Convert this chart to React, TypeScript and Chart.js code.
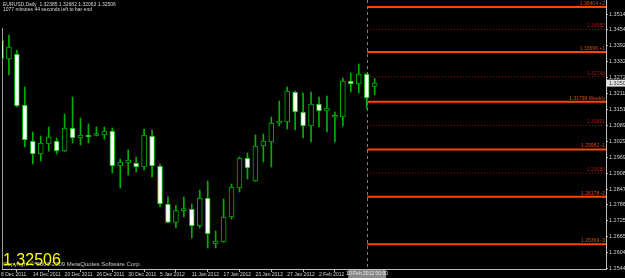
import { useEffect, useRef } from "react";
import { Chart, registerables } from "chart.js";

Chart.register(...registerables);

// ---- data ----
const dates = [
  "8 Dec 2011", "9 Dec 2011", "12 Dec 2011", "13 Dec 2011", "14 Dec 2011", "15 Dec 2011", "16 Dec 2011",
  "19 Dec 2011", "20 Dec 2011", "21 Dec 2011", "22 Dec 2011", "23 Dec 2011", "26 Dec 2011", "27 Dec 2011",
  "28 Dec 2011", "29 Dec 2011", "30 Dec 2011", "2 Jan 2012", "3 Jan 2012", "4 Jan 2012", "5 Jan 2012",
  "6 Jan 2012", "9 Jan 2012", "10 Jan 2012", "11 Jan 2012", "12 Jan 2012", "13 Jan 2012", "16 Jan 2012",
  "17 Jan 2012", "18 Jan 2012", "19 Jan 2012", "20 Jan 2012", "23 Jan 2012", "24 Jan 2012", "25 Jan 2012",
  "26 Jan 2012", "27 Jan 2012", "30 Jan 2012", "31 Jan 2012", "1 Feb 2012", "2 Feb 2012", "3 Feb 2012",
  "6 Feb 2012", "7 Feb 2012", "8 Feb 2012", "9 Feb 2012", "10 Feb 2012", "13 Feb 2012",
];
const opens = [
  1.34149, 1.33426, 1.33616, 1.31673, 1.30301, 1.29806, 1.30187, 1.30301, 1.2992, 1.30797, 1.30416, 1.3053,
  1.3051, 1.3053, 1.30682, 1.29349, 1.29463, 1.29463, 1.29311, 1.30492, 1.29349, 1.279, 1.272, 1.2765,
  1.27711, 1.27063, 1.2813, 1.26377, 1.26453, 1.27406, 1.28511, 1.29654, 1.28777, 1.30111, 1.30263, 1.30985,
  1.31025, 1.32168, 1.31406, 1.30873, 1.31711, 1.31444, 1.31205, 1.31216, 1.32587, 1.32473, 1.32854, 1.32385,
];
const highs = [
  1.34569, 1.3434, 1.33768, 1.32359, 1.30644, 1.30492, 1.30835, 1.30416, 1.3133, 1.31978, 1.31178, 1.30949,
  1.30835, 1.30835, 1.30797, 1.29616, 1.29958, 1.29692, 1.30759, 1.3072, 1.29425, 1.2817, 1.2785, 1.28168,
  1.27901, 1.28434, 1.28777, 1.26872, 1.28092, 1.28663, 1.29692, 1.29844, 1.3053, 1.30568, 1.31216, 1.31825,
  1.32359, 1.32206, 1.3213, 1.32168, 1.31978, 1.32016, 1.31406, 1.32702, 1.32892, 1.33235, 1.32892, 1.32682,
];
const lows = [
  1.32892, 1.32816, 1.31597, 1.30073, 1.29425, 1.29539, 1.2992, 1.29806, 1.29901, 1.30225, 1.30149, 1.30225,
  1.30492, 1.30378, 1.29082, 1.28511, 1.29006, 1.2912, 1.29196, 1.2893, 1.278, 1.2718, 1.27, 1.27406,
  1.26606, 1.26987, 1.26225, 1.26225, 1.2644, 1.2733, 1.28358, 1.28854, 1.2877, 1.29501, 1.29311, 1.30873,
  1.30759, 1.3072, 1.30416, 1.30263, 1.30835, 1.30644, 1.30263, 1.30873, 1.32168, 1.3213, 1.31521, 1.32063,
];
const closes = [
  1.33426, 1.33883, 1.31635, 1.30339, 1.29806, 1.30225, 1.30454, 1.2992, 1.30797, 1.30416, 1.3053, 1.30454,
  1.30545, 1.30682, 1.29349, 1.29501, 1.29577, 1.29311, 1.3053, 1.29349, 1.279, 1.272, 1.2765, 1.2769,
  1.27063, 1.2813, 1.26758, 1.26491, 1.27406, 1.28549, 1.29654, 1.29273, 1.30111, 1.30301, 1.30987, 1.3102,
  1.32206, 1.31406, 1.30873, 1.31711, 1.31444, 1.31559, 1.3124, 1.32587, 1.32473, 1.32854, 1.3194, 1.32506,
];
const priceTicks = [
  1.3514, 1.3454, 1.33925, 1.33325, 1.3272, 1.3211, 1.3151, 1.30895, 1.3029, 1.2969, 1.2908, 1.2847,
  1.27865, 1.27255, 1.2665, 1.26045, 1.2544,
];
const dateTickIndex = [0, 4, 8, 12, 16, 20, 24, 28, 32, 36, 40, 44];
const pivotLevels = [1.35404, 1.33696, 1.31799, 1.29982, 1.28178, 1.26369];
const pivotTags = ["+2", "+1", "Weekly", "-1", "-2", "-3"];
const midLevels = [1.3455, 1.32748, 1.30891, 1.2908];
const lineStartIndex = 46.05;
const lineLabel = "10 Feb 2012 00:00";
const headerLine1 = "EURUSD,Daily  1.32385 1.32682 1.32063 1.32506";
const headerLine2 = "1077 minutes 44 seconds left to bar end";
const copyright = "Copyright \u00A9 2001-2009 MetaQuotes Software Corp.";

const X_MIN = 0.126;
const X_MAX = 76.1;
const Y_MIN = 1.254245;
const Y_MAX = 1.356734;
const FONT = "'Liberation Sans', Arial, sans-serif";

export default function App() {
  const ref = useRef<HTMLCanvasElement>(null);

  useEffect(() => {
    document.body.style.margin = "0";
    document.body.style.background = "#000";
    const canvas = ref.current;
    if (!canvas) return;

    const idx = dates.map((_, i) => i);
    const bull = idx.map((i) => closes[i] >= opens[i]);
    const bodies = idx.map((i) => ({ x: i, y: [Math.min(opens[i], closes[i]), Math.max(opens[i], closes[i])] }));
    const wicks = idx.map((i) => ({ x: i, y: [lows[i], highs[i]] }));

    const datasets: any[] = [
      {
        type: "bar",
        data: bodies,
        backgroundColor: idx.map((i) => (bull[i] ? "#000000" : "#ffffff")),
        borderColor: "#00b000",
        borderWidth: 1,
        borderSkipped: false,
        barThickness: 5,
        grouped: false,
        minBarLength: 2,
        order: 0,
      },
      {
        type: "bar",
        data: wicks,
        backgroundColor: "#00b000",
        borderWidth: 0,
        barThickness: 1,
        grouped: false,
        order: 1,
      },
    ];
    pivotLevels.forEach((p) => {
      datasets.push({
        type: "line",
        data: [
          { x: lineStartIndex, y: p },
          { x: X_MAX, y: p },
        ],
        borderColor: "#ff4500",
        borderWidth: 2,
        pointRadius: 0,
        order: 3,
      });
    });
    midLevels.forEach((p) => {
      datasets.push({
        type: "line",
        data: [
          { x: lineStartIndex, y: p },
          { x: X_MAX, y: p },
        ],
        borderColor: "#a01010",
        borderWidth: 1,
        borderDash: [1, 2],
        pointRadius: 0,
        order: 3,
      });
    });

    const decor = {
      id: "decor",
      beforeDraw(chart: any) {
        const ctx = chart.ctx;
        ctx.save();
        ctx.fillStyle = "#000";
        ctx.fillRect(0, 0, chart.width, chart.height);
        ctx.restore();
      },
      beforeDatasetsDraw(chart: any) {
        const ctx = chart.ctx;
        const { chartArea } = chart;
        const xs = chart.scales.x;
        ctx.save();
        // left frame line
        ctx.strokeStyle = "#a0a0a0";
        ctx.lineWidth = 1;
        ctx.beginPath();
        ctx.moveTo(chartArea.left + 0.5, 28);
        ctx.lineTo(chartArea.left + 0.5, chartArea.bottom);
        ctx.stroke();
        // vertical dashed line
        const vx = Math.round(xs.getPixelForValue(lineStartIndex)) + 0.5;
        ctx.strokeStyle = "#808080";
        ctx.setLineDash([3, 3]);
        ctx.beginPath();
        ctx.moveTo(vx, chartArea.top);
        ctx.lineTo(vx, chartArea.bottom);
        ctx.stroke();
        ctx.restore();
      },
      afterDraw(chart: any) {
        const ctx = chart.ctx;
        const { chartArea } = chart;
        const xs = chart.scales.x;
        const ys = chart.scales.y;
        ctx.save();
        // pivot labels
        ctx.textAlign = "right";
        ctx.textBaseline = "bottom";
        ctx.font = `5px ${FONT}`;
        pivotLevels.forEach((p, k) => {
          const y = ys.getPixelForValue(p);
          ctx.fillStyle = "#d05010";
          ctx.fillText(`${p.toFixed(5)} ${pivotTags[k]}`, chartArea.right - 1, y - 1);
        });
        midLevels.forEach((p) => {
          const y = ys.getPixelForValue(p);
          ctx.fillStyle = "#a01818";
          ctx.fillText(p.toFixed(5), chartArea.right - 1, y - 1);
        });
        // header
        ctx.textAlign = "left";
        ctx.textBaseline = "middle";
        ctx.fillStyle = "#d8d8d8";
        ctx.font = `5px ${FONT}`;
        ctx.fillText(headerLine1, 3, 5);
        ctx.fillText(headerLine2, 3, 10);
        // copyright
        ctx.fillStyle = "#c8c8c8";
        ctx.font = `6px ${FONT}`;
        ctx.fillText(copyright, 3, 264);
        // big price
        ctx.fillStyle = "#ffff00";
        ctx.font = `16px ${FONT}`;
        ctx.textBaseline = "alphabetic";
        ctx.fillText(closes[closes.length - 1].toFixed(5), 3, 265);
        // current price box on right axis
        const py = ys.getPixelForValue(closes[closes.length - 1]);
        ctx.fillStyle = "#e0e0e0";
        ctx.fillRect(chartArea.right, py - 3.5, chart.width - chartArea.right, 7);
        ctx.fillStyle = "#404040";
        ctx.font = `5.5px ${FONT}`;
        ctx.textBaseline = "middle";
        ctx.fillText(closes[closes.length - 1].toFixed(5), chartArea.right + 3, py);
        // time label box
        const bx = xs.getPixelForValue(lineStartIndex);
        ctx.fillStyle = "#888888";
        ctx.fillRect(bx - 19, chartArea.bottom + 1, 38, 8);
        ctx.fillStyle = "#e8e8e8";
        ctx.font = `5px ${FONT}`;
        ctx.textAlign = "center";
        ctx.fillText(lineLabel, bx, chartArea.bottom + 5);
        ctx.restore();
      },
    };

    const chart = new Chart(canvas, {
      type: "bar",
      data: { datasets },
      options: {
        animation: false,
        responsive: false,
        devicePixelRatio: 1,
        events: [],
        layout: { padding: { left: 2, top: 0, right: 0, bottom: 0 } },
        plugins: { legend: { display: false }, tooltip: { enabled: false } },
        scales: {
          x: {
            type: "linear",
            min: X_MIN,
            max: X_MAX,
            bounds: "data",
            offset: false,
            grid: { display: true, drawOnChartArea: false, drawTicks: true, tickLength: 3, color: "#b0b0b0" },
            border: { display: true, color: "#c0c0c0" },
            ticks: {
              autoSkip: false,
              maxRotation: 0,
              minRotation: 0,
              align: "start",
              padding: 0,
              color: "#d0d0d0",
              font: { family: FONT, size: 5 },
              callback: (v: any) => dates[Number(v)] ?? "",
            },
            afterBuildTicks: (s: any) => {
              s.ticks = dateTickIndex.map((v) => ({ value: v }));
            },
            afterFit: (s: any) => {
              s.height = 9;
              s.paddingLeft = 0;
              s.paddingRight = 0;
            },
          } as any,
          y: {
            type: "linear",
            position: "right",
            min: Y_MIN,
            max: Y_MAX,
            bounds: "data",
            grid: { display: true, drawOnChartArea: false, drawTicks: true, tickLength: 2, color: "#b0b0b0" },
            border: { display: true, color: "#c0c0c0" },
            ticks: {
              autoSkip: false,
              padding: 1,
              color: "#d0d0d0",
              font: { family: FONT, size: 5.5 },
              callback: (v: any) => Number(v).toFixed(5),
            },
            afterBuildTicks: (s: any) => {
              s.ticks = priceTicks.map((v) => ({ value: v }));
            },
            afterFit: (s: any) => {
              s.width = 19;
              s.paddingTop = 0;
              s.paddingBottom = 0;
            },
          } as any,
        },
      },
      plugins: [decor],
    } as any);

    return () => chart.destroy();
  }, []);

  return (
    <div style={{ width: 625, height: 278, background: "#000" }}>
      <canvas ref={ref} width={625} height={278} style={{ display: "block", width: 625, height: 278 }} />
    </div>
  );
}
